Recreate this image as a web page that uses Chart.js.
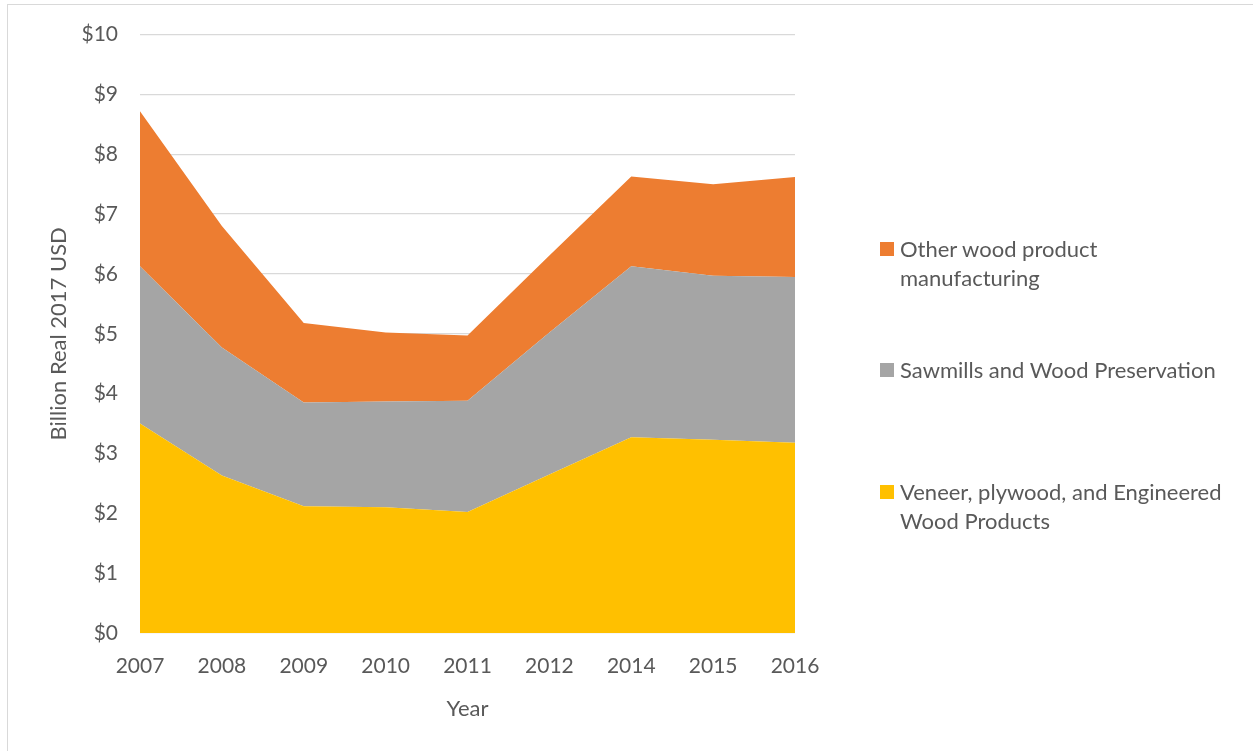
<!DOCTYPE html>
<html>
<head>
<meta charset="utf-8">
<script src="https://cdn.jsdelivr.net/npm/chart.js@4.4.1/dist/chart.umd.min.js"></script>
<style>
  body { margin: 0; background: #fff; font-family: Lato, "Open Sans", sans-serif; }
  #wrap { position: relative; width: 1253px; height: 751px; overflow: hidden; }
  #frame { position: absolute; left: 7px; top: 4px; width: 1260px; height: 760px; border: 1px solid #d9d9d9; box-sizing: border-box; }
  #myChart { position: absolute; left: 0; top: 0; }
  .leg { position: absolute; left: 880px; color: #595959; font-size: 22px; line-height: 29px; }
  .leg .sw { position: absolute; left: 0; top: 8px; width: 14px; height: 14px; }
  .leg .txt { margin-left: 20px; }
</style>
</head>
<body>
<div id="wrap">
  <div id="frame"></div>
  <canvas id="myChart" width="1253" height="751"></canvas>
  <div id="legend"></div>
</div>
<script>
// years on the x axis
const years = ['2007', '2008', '2009', '2010', '2011', '2012', '2014', '2015', '2016'];

// billion real 2017 USD, stacked
const veneer = [3.50, 2.63, 2.12, 2.10, 2.02, 2.65, 3.27, 3.23, 3.18];
const sawmills = [2.63, 2.14, 1.73, 1.77, 1.86, 2.37, 2.86, 2.74, 2.77];
const otherWood = [2.59, 2.03, 1.33, 1.15, 1.09, 1.29, 1.50, 1.53, 1.67];

const seriesNames = ['Veneer, plywood, and Engineered Wood Products', 'Sawmills and Wood Preservation', 'Other wood product manufacturing'];
const seriesColors = ['#ffc000', '#a5a5a5', '#ed7d31'];

const textColor = '#595959';
const fontFamily = 'Lato, "Open Sans", sans-serif';

let chartData = {
    labels: years,
    datasets: [veneer, sawmills, otherWood].map((vals, i) => ({
        label: seriesNames[i],
        data: vals,
        backgroundColor: seriesColors[i],
        borderWidth: 0,
        pointRadius: 0,
        fill: i === 0 ? 'origin' : '-1',
        tension: 0
    }))
};

let ctx = document.getElementById('myChart').getContext('2d');
new Chart(ctx, {
    type: 'line',
    data: chartData,
    options: {
        responsive: false,
        animation: false,
        layout: { padding: { left: 0, right: 458, top: 33, bottom: 18 } },
        plugins: {
            legend: { display: false },
            tooltip: { enabled: false }
        },
        scales: {
            x: {
                grid: { display: false },
                border: { display: false },
                ticks: { color: textColor, font: { family: fontFamily, size: 21 }, padding: 13, maxRotation: 0 },
                title: { display: true, text: 'Year', color: textColor, font: { family: fontFamily, size: 22 }, padding: { top: 4, bottom: 11 } },
                afterFit: (scale) => { scale.height = 100; }
            },
            y: {
                stacked: true,
                min: 0,
                max: 10,
                grid: { color: '#d9d9d9', lineWidth: 1.3, drawTicks: false },
                border: { display: false },
                ticks: {
                    stepSize: 1,
                    color: textColor,
                    font: { family: fontFamily, size: 21 },
                    padding: 22,
                    callback: (v) => '$' + v
                },
                title: { display: true, text: 'Billion Real 2017 USD', color: textColor, font: { family: fontFamily, size: 22 }, padding: { top: 46, bottom: 0 } },
                afterFit: (scale) => { scale.width = 140; }
            }
        }
    }
});

// legend, order as in the reference (top series first)
const legendItems = [
    { idx: 2, top: 234, html: 'Other wood product<br>manufacturing' },
    { idx: 1, top: 355, html: 'Sawmills and Wood Preservation' },
    { idx: 0, top: 477, html: 'Veneer, plywood, and Engineered<br>Wood Products' }
];
let legendEl = document.getElementById('legend');
legendItems.forEach(item => {
    let d = document.createElement('div');
    d.className = 'leg';
    d.style.top = item.top + 'px';
    d.innerHTML = '<span class="sw" style="background:' + seriesColors[item.idx] + '"></span><div class="txt">' + item.html + '</div>';
    legendEl.appendChild(d);
});
</script>
</body>
</html>
